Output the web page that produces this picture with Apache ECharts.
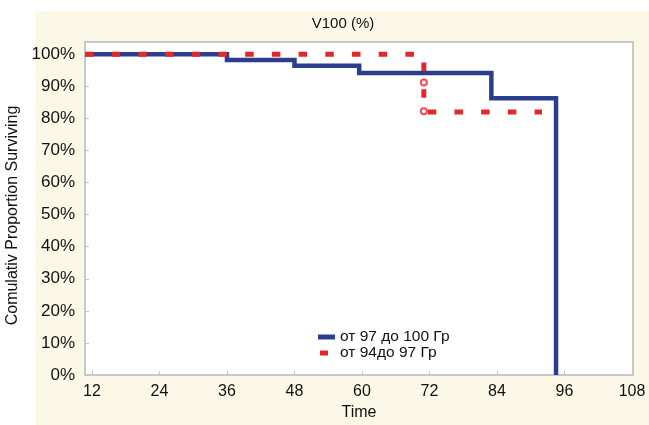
<!DOCTYPE html>
<html>
<head>
<meta charset="utf-8">
<script src="https://cdn.jsdelivr.net/npm/echarts@6/dist/echarts.min.js"></script>
<style>
html,body{margin:0;padding:0;background:#ffffff;}
#chart{width:649px;height:425px;}
</style>
</head>
<body>
<div id="chart"></div>
<script>
// ---- data ----
var titleText = 'V100 (%)';
var xAxisName = 'Time';
var yAxisName = 'Comulativ Proportion Surviving';
var xTicks = [12, 24, 36, 48, 60, 72, 84, 96, 108];
var yTicks = [0, 10, 20, 30, 40, 50, 60, 70, 80, 90, 100];
var seriesNames = ['от 97 до 100 Гр', 'от 94до 97 Гр'];
// Kaplan-Meier steps [time, % surviving]
var blueSteps = [[10.76, 100], [36, 98.2], [48, 96.4], [59.5, 94.1], [83, 86.3], [94.5, 0]];
var redSteps = [[10.76, 100], [71, 82], [92, 82]];
var redCensored = [[71, 91.2], [71, 82.2]];

var BLUE = '#2a3d8f';
var RED = '#e3262a';
var FONT = 'Liberation Sans, Arial, sans-serif';

var chart = echarts.init(document.getElementById('chart'), null, {renderer: 'canvas'});
chart.setOption({
  backgroundColor: '#ffffff',
  animation: false,
  graphic: [{
    type: 'rect', z: -10, silent: true,
    shape: {x: 35, y: 11, width: 614, height: 414},
    style: {fill: '#fcf8e8'}
  }],
  title: {
    text: titleText, left: 338, top: 11, textAlign: 'center',
    textStyle: {fontFamily: FONT, fontSize: 15, fontWeight: 'normal', color: '#111'}
  },
  grid: {
    left: 85, right: 16, top: 42, bottom: 50,
    outerBoundsMode: 'none', containLabel: false,
    show: true, backgroundColor: '#ffffff', borderColor: '#b8b8b8', borderWidth: 1.5
  },
  legend: {
    orient: 'vertical', left: 313, top: 324, itemGap: 0,
    itemWidth: 17, itemHeight: 5,
    textStyle: {fontFamily: FONT, fontSize: 15.5, color: '#111', lineHeight: 16},
    data: [
      {name: seriesNames[0], icon: 'rect', itemStyle: {color: BLUE, borderWidth: 0}},
      {name: seriesNames[1], icon: 'path://M0 0H0.05V5H0Z M2 0H10V5H2Z M16.95 0H17V5H16.95Z', itemStyle: {color: RED, borderWidth: 0}}
    ]
  },
  xAxis: {
    type: 'value', min: 10.76, max: 108.18,
    name: xAxisName, nameLocation: 'middle', nameGap: 27,
    nameTextStyle: {fontFamily: FONT, fontSize: 16, color: '#111'},
    axisLine: {show: false},
    axisTick: {show: true, inside: true, length: 4, lineStyle: {color: '#c4c4c4'}, customValues: xTicks},
    axisLabel: {fontFamily: FONT, fontSize: 16, color: '#111', margin: 9, customValues: xTicks},
    splitLine: {show: false}
  },
  yAxis: {
    type: 'value', min: 0, max: 103.8,
    name: yAxisName, nameLocation: 'middle', nameGap: 50, nameRotate: 90,
    nameTextStyle: {fontFamily: FONT, fontSize: 16, color: '#111', padding: [0, 14, 0, 0]},
    axisLine: {show: false},
    axisTick: {show: true, inside: true, length: 4, lineStyle: {color: '#c4c4c4'}, customValues: yTicks},
    axisLabel: {fontFamily: FONT, fontSize: 17, color: '#111', margin: 10, customValues: yTicks,
      formatter: function (v) { return v + '%'; }},
    splitLine: {show: false}
  },
  series: [
    {
      name: seriesNames[0], type: 'line', step: 'end', data: blueSteps,
      symbol: 'none', z: 2,
      lineStyle: {color: BLUE, width: 4.5, join: 'miter', cap: 'butt'},
      itemStyle: {color: BLUE}
    },
    {
      name: seriesNames[1], type: 'line', step: 'end', data: redSteps,
      symbol: 'none', z: 3,
      lineStyle: {color: RED, width: 5, type: [8.5, 18.2], cap: 'butt'},
      itemStyle: {color: RED}
    },
    {
      name: 'censored', type: 'scatter', data: redCensored, z: 4,
      symbol: 'emptyCircle', symbolSize: 6,
      itemStyle: {color: RED, borderWidth: 1.3}
    }
  ]
});
</script>
</body>
</html>
